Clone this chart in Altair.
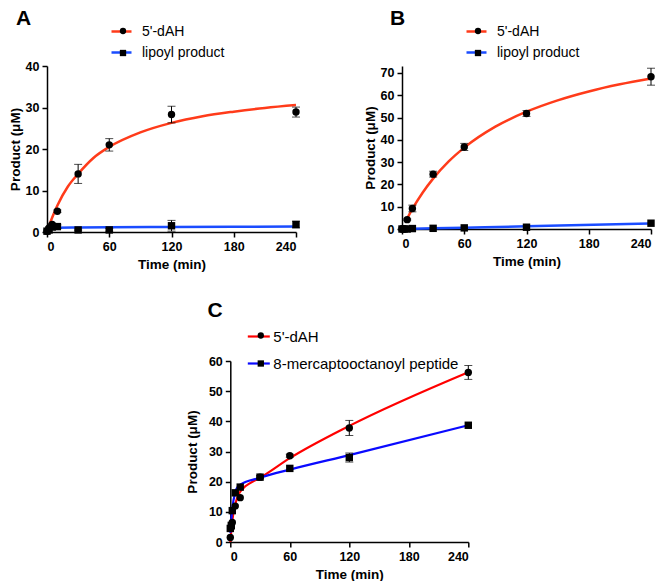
import altair as alt
import pandas as pd

# ---------------- Panel A ----------------
t_A = [0, 2, 5, 10, 30, 60, 120, 240]
dah_A = [0.2, 1.0, 1.8, 5.0, 14.0, 21.0, 28.3, 28.9]
dah_A_err = [0, 0, 0.3, 0.3, 2.3, 1.5, 2.0, 1.2]
lip_A = [0.2, 0.5, 1.2, 1.3, 0.5, 0.5, 1.5, 1.8]
lip_A_err = [0, 0, 0.5, 0.4, 0.2, 0.3, 1.3, 0.8]
fit_dah_t_A = [0, 5, 10, 20, 30, 45, 60, 90, 120, 150, 180, 210, 240]
fit_dah_A = [0, 3.5, 6.4, 10.9, 14.0, 17.9, 20.5, 24.0, 26.3, 27.9, 29.0, 29.9, 30.6]
fit_lip_t_A = [0, 3, 6, 10, 30, 60, 120, 240]
fit_lip_A = [0, 0.8, 1.0, 1.05, 1.1, 1.15, 1.2, 1.3]

# ---------------- Panel B ----------------
t_B = [0, 2, 5, 10, 30, 60, 120, 240]
dah_B = [0, 0, 4.2, 9.2, 24.6, 36.8, 51.8, 68.3]
dah_B_err = [0, 0, 0.3, 1.5, 1.3, 1.6, 1.3, 3.8]
lip_B = [0, 0, 0, 0.2, 0.3, 0.5, 0.8, 2.6]
lip_B_err = [0, 0, 0, 0, 0, 0, 0, 0]
fit_dah_t_B = [4, 10, 20, 30, 45, 60, 90, 120, 150, 180, 210, 240]
fit_dah_B = [3.8, 9.0, 16.4, 22.6, 30.3, 36.5, 45.9, 52.6, 57.7, 61.7, 64.9, 67.5]
fit_lip_t_B = [0, 10, 30, 60, 120, 240]
fit_lip_B = [0, 0.1, 0.3, 0.6, 1.2, 2.5]

# ---------------- Panel C ----------------
t_C = [0, 1, 2, 5, 10, 30, 60, 120, 240]
dah_C = [1.5, 4.8, 6.5, 11.9, 14.7, 21.5, 28.6, 37.8, 56.2]
dah_C_err = [0, 0, 0, 0, 0, 0.5, 0.5, 2.5, 2.3]
mer_C = [4.5, 5.5, 10.4, 16.3, 18.2, 21.5, 24.4, 28.0, 38.7]
mer_C_err = [0, 0, 0, 0, 0, 0, 0, 1.5, 0]
fit_dah_t_C = [0, 2, 5, 8, 12, 20, 30, 60, 120, 240]
fit_dah_C = [0, 7.0, 12.5, 15.5, 17.5, 19.5, 21.3, 27.8, 38.5, 56.3]
fit_mer_t_C = [0, 2, 5, 8, 10, 30, 60, 120, 240]
fit_mer_C = [3.0, 11.0, 16.5, 18.5, 19.0, 21.3, 24.0, 28.8, 38.7]

x_ticks = [0, 60, 120, 180, 240]
FONT = "Liberation Sans"


def panel(letter, t, s1, e1, s2, e2, ft1, fy1, ft2, fy2, names, colors,
          ydom, yticks, w, h, lx, ly, mark_dx, mark_dy, row_pad_line, row_pad_pt,
          line_len, legend_font, label_off, title_dx, title_off, strokew, ytp):
    pts = pd.DataFrame({
        "t": t + t,
        "y": s1 + s2,
        "err": e1 + e2,
        "series": [names[0]] * len(t) + [names[1]] * len(t),
    })
    pts["series_s"] = pts["series"]
    pts["lo"] = pts["y"] - pts["err"]
    pts["hi"] = pts["y"] + pts["err"]
    errs = pts[pts["err"] > 0]
    fit = pd.DataFrame({
        "t": ft1 + ft2,
        "y": fy1 + fy2,
        "series": [names[0]] * len(ft1) + [names[1]] * len(ft2),
    })

    xs = alt.Scale(domain=[0, 240], nice=False, zero=False)
    ys = alt.Scale(domain=[0, ydom], nice=False, zero=False)
    xax = alt.Axis(values=x_ticks, title="Time (min)", titlePadding=5,
                   labelOverlap=False)
    yax = alt.Axis(values=yticks, title="Product (\u03bcM)", titlePadding=ytp,
                   labelOverlap=False)

    def X(f="t"):
        return alt.X(f + ":Q", scale=xs, axis=xax)

    def Y(f="y"):
        return alt.Y(f + ":Q", scale=ys, axis=yax)

    line = alt.Chart(fit).mark_line(strokeWidth=strokew, interpolate="monotone").encode(
        x=X(), y=Y(),
        color=alt.Color("series:N", scale=alt.Scale(domain=names, range=colors),
                        sort=names,
                        legend=alt.Legend(orient="none", legendX=lx, legendY=ly,
                                          title=None, symbolType="stroke",
                                          symbolSize=line_len * line_len,
                                          symbolStrokeWidth=strokew,
                                          labelFont=FONT, labelFontSize=legend_font,
                                          labelColor="black", labelOffset=label_off,
                                          labelLimit=400,
                                          rowPadding=row_pad_line, padding=0)),
        detail="series:N",
    )
    rule = alt.Chart(errs).mark_rule(color="black", strokeWidth=1).encode(
        x=X(), y=Y("lo"), y2="hi:Q")
    tick_lo = alt.Chart(errs).mark_tick(color="black", orient="horizontal",
                                        size=8, thickness=1).encode(x=X(), y=Y("lo"))
    tick_hi = alt.Chart(errs).mark_tick(color="black", orient="horizontal",
                                        size=8, thickness=1).encode(x=X(), y=Y("hi"))
    points = alt.Chart(pts).mark_point(filled=True, color="black", size=55,
                                       opacity=1).encode(
        x=X(), y=Y(),
        shape=alt.Shape("series_s:N",
                        scale=alt.Scale(domain=names, range=["circle", "square"]),
                        sort=names,
                        legend=alt.Legend(orient="none", legendX=lx + mark_dx,
                                          legendY=ly + mark_dy,
                                          title=None, symbolSize=40,
                                          symbolFillColor="black",
                                          symbolStrokeColor="black",
                                          labelFont=FONT, labelFontSize=legend_font,
                                          labelExpr="''", labelOffset=0,
                                          rowPadding=row_pad_pt, padding=0)),
    )
    return alt.layer(line, rule, tick_lo, tick_hi, points).resolve_legend(
        color="independent", shape="independent").properties(
        width=w, height=h,
        title=alt.TitleParams(letter, anchor="start", frame="bounds", font=FONT,
                              fontSize=21, fontWeight="bold", color="black",
                              dx=title_dx, offset=title_off))


red_ab, blue_ab = "#ff3b1a", "#1a4cff"
A = panel("A", t_A, dah_A, dah_A_err, lip_A, lip_A_err,
          fit_dah_t_A, fit_dah_A, fit_lip_t_A, fit_lip_A,
          ["5'-dAH", "lipoyl product"], [red_ab, blue_ab],
          40, [0, 10, 20, 30, 40], 249, 166, 63, -46, 6, 4, 2, 8, 20, 14, 9,
          8, -9, 2.5, 3)
B = panel("B", t_B, dah_B, dah_B_err, lip_B, lip_B_err,
          fit_dah_t_B, fit_dah_B, fit_lip_t_B, fit_lip_B,
          ["5'-dAH", "lipoyl product"], [red_ab, blue_ab],
          73.1, list(range(0, 71, 10)), 249, 163, 63, -46, 6, 4, 2, 8, 20, 14, 9,
          27, -9, 2.5, 3)
C = panel("C", t_C, dah_C, dah_C_err, mer_C, mer_C_err,
          fit_dah_t_C, fit_dah_C, fit_mer_t_C, fit_mer_C,
          ["5'-dAH", "8-mercaptooctanoyl peptide"], ["#ff0000", "#0a0aff"],
          60, list(range(0, 61, 10)), 238, 181, 16, -37, 7, 4, 6, 12, 22, 15, 2,
          22, 3, 2.2, 9)

top = alt.hconcat(A, B, spacing=62).resolve_scale(
    color="independent", shape="independent")
chart = alt.vconcat(top, C, spacing=29, center=True).resolve_scale(
    color="independent", shape="independent").configure_view(
    stroke=None
).configure_axis(
    grid=False, domainColor="black", domainWidth=1.5, tickColor="black",
    tickSize=5, tickWidth=1.5, labelFont=FONT, labelFontSize=12.5,
    labelFontWeight="bold", labelColor="black", titleFont=FONT,
    titleFontSize=13.5, titleFontWeight="bold", titleColor="black",
    labelPadding=3
).properties(padding={"left": 0, "top": 0, "right": 0, "bottom": 0})

chart.save("out.html", embed_options={"renderer": "svg", "actions": False})
